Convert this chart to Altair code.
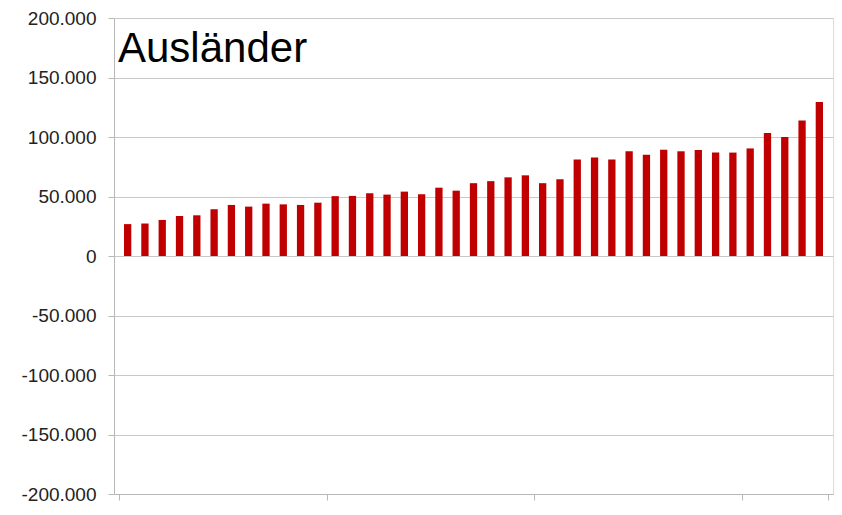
import altair as alt
import pandas as pd

# Data
categories = list(range(1, 42))
values = [26800, 27300, 30300, 33600, 34200, 39300, 42900, 41500, 44000, 43400,
          42900, 44800, 50300, 50500, 52700, 51600, 54100, 51900, 57400, 54900,
          61200, 62900, 66100, 67800, 61200, 64500, 81100, 82800, 81100, 88000,
          85000, 89300, 88000, 89100, 86900, 86900, 90400, 103300, 100000, 113900,
          129500]
y_ticks = [-200000, -150000, -100000, -50000, 0, 50000, 100000, 150000, 200000]
x_ticks = [0, 12, 24, 36, 41]
title_text = "Ausländer"

df = pd.DataFrame({"idx": categories, "value": values})
df["pos"] = df["idx"] - 0.5

label_expr = "(datum.value < 0 ? '-' : '') + replace(format(abs(datum.value), ','), ',', '.')"

bars = alt.Chart(df).mark_bar(color="#c00000", size=7.3).encode(
    x=alt.X(
        "pos:Q",
        scale=alt.Scale(domain=[0, len(categories)], nice=False, zero=False),
        axis=alt.Axis(values=x_ticks, labels=False, title=None, grid=False,
                      domainColor="#b8b8b8", tickColor="#b8b8b8", tickSize=6,
                      domainWidth=1, tickWidth=1),
    ),
    y=alt.Y(
        "value:Q",
        scale=alt.Scale(domain=[-200000, 200000], nice=False),
        axis=alt.Axis(values=y_ticks, title=None, labelExpr=label_expr,
                      labelFontSize=19, labelFont="Liberation Sans",
                      labelColor="#222222", tickSize=6, labelPadding=12,
                      tickColor="#b8b8b8", domainColor="#b8b8b8",
                      gridColor="#c8c8c8", gridWidth=1.2),
    ),
).properties(
    width=719,
    height=476,
    title=alt.TitleParams(title_text, anchor="start", frame="group",
                          fontSize=42, font="Liberation Sans",
                          fontWeight="normal", color="black",
                          baseline="alphabetic", offset=0, dx=4, dy=95),
    autosize=alt.AutoSizeParams(type="none"),
    padding={"left": 106, "top": 10, "right": 1, "bottom": 10},
).configure_view(stroke=None).configure(background="white")

bars.save("out.html", embed_options={"renderer": "svg", "actions": False})
